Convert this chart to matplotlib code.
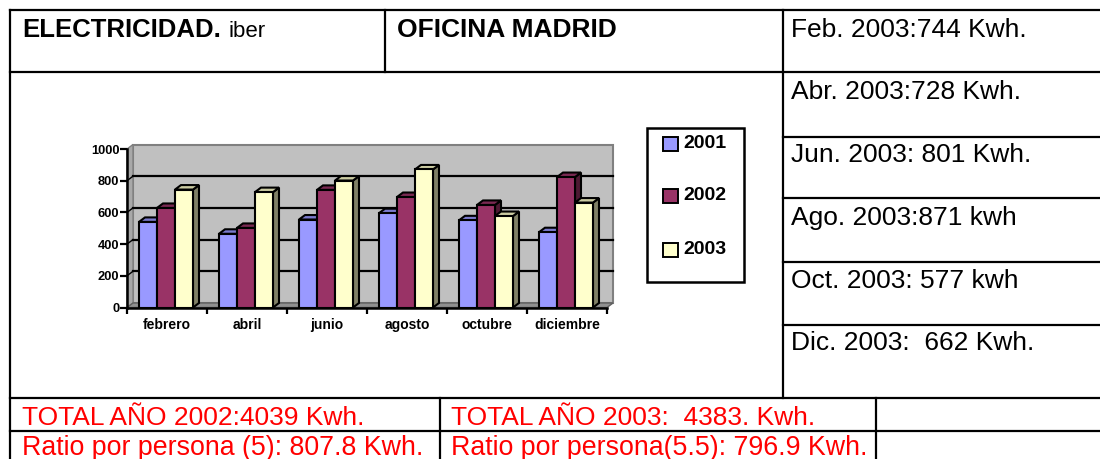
import matplotlib
matplotlib.use("Agg")
import matplotlib.pyplot as plt
from matplotlib.patches import Polygon, Rectangle
import numpy as np

# ---------------- data ----------------
categories = ["febrero", "abril", "junio", "agosto", "octubre", "diciembre"]
series_names = ["2001", "2002", "2003"]
values_2001 = [540, 465, 555, 595, 550, 475]
values_2002 = [628, 502, 742, 697, 647, 823]
values_2003 = [744, 728, 801, 871, 577, 662]
y_ticks = [0, 200, 400, 600, 800, 1000]

header_left_bold = "ELECTRICIDAD."
header_left_small = "iber"
header_mid = "OFICINA MADRID"
right_column = ["Feb. 2003:744 Kwh.", "Abr. 2003:728 Kwh.", "Jun. 2003: 801 Kwh.",
                "Ago. 2003:871 kwh", "Oct. 2003: 577 kwh", "Dic. 2003:  662 Kwh."]
footer_row1 = ["TOTAL AÑO 2002:4039 Kwh.", "TOTAL AÑO 2003:  4383. Kwh."]
footer_row2 = ["Ratio por persona (5): 807.8 Kwh.", "Ratio por persona(5.5): 796.9 Kwh."]

FONT = "Liberation Sans"
W, H = 1100, 459
fig = plt.figure(figsize=(W / 100, H / 100), dpi=100)
fig.patch.set_facecolor("white")

bg = fig.add_axes([0, 0, 1, 1])
bg.set_xlim(0, W)
bg.set_ylim(H, 0)
bg.axis("off")

def hline(y, x0, x1):
    bg.plot([x0, x1], [y, y], color="black", lw=1.6, solid_capstyle="projecting", zorder=5)

def vline(x, y0, y1):
    bg.plot([x, x], [y0, y1], color="black", lw=1.6, solid_capstyle="projecting", zorder=5)

# table grid
hline(10, 10, W)
hline(72, 10, W)
for y in [137, 198, 262, 325]:
    hline(y, 783, W)
hline(398, 10, W)
hline(431, 10, W)
vline(10, 10, H)
vline(385, 10, 72)
vline(783, 10, 398)
vline(440, 398, H)
vline(876, 398, H)

# header texts
bg.text(22, 37, header_left_bold, fontsize=18.5, fontweight="bold", family=FONT, va="baseline")
bg.text(229, 37, header_left_small, fontsize=16, family=FONT, va="baseline")
bg.text(397, 37, header_mid, fontsize=19, fontweight="bold", family=FONT, va="baseline")

right_baselines = [37, 99, 162, 225, 288, 350]
for s, yb in zip(right_column, right_baselines):
    bg.text(791, yb, s, fontsize=19, family=FONT, va="baseline", color="black")

for s, x in zip(footer_row1, [22, 451]):
    bg.text(x, 425, s, fontsize=19, family=FONT, va="baseline", color="#FF0000")
for s, x in zip(footer_row2, [22, 451]):
    bg.text(x, 455, s, fontsize=19.3, family=FONT, va="baseline", color="#FF0000")

# ---------------- chart ----------------
ax_left, ax_right = 127, 607
ax_top, ax_bot = 149, 307.5
ax = fig.add_axes([ax_left / W, (H - ax_bot) / H, (ax_right - ax_left) / W, (ax_bot - ax_top) / H])
ax.set_xlim(-0.5, 5.5)
ax.set_ylim(0, 1000)
ax.patch.set_visible(False)

px_x = (ax_right - ax_left) / 6.0
px_y = (ax_bot - ax_top) / 1000.0
ddx = 6 / px_x
ddy = 4.5 / px_y

# back wall, side wall, floor
ax.add_patch(Rectangle((-0.5 + ddx, ddy), 6, 1000, fc="#C0C0C0", ec="#808080", lw=1.5,
                       zorder=0, clip_on=False))
ax.add_patch(Polygon([(-0.5, 0), (-0.5 + ddx, ddy), (-0.5 + ddx, 1000 + ddy), (-0.5, 1000)],
                     closed=True, fc="#A8A8A8", ec="#808080", lw=1, zorder=0.5, clip_on=False))
ax.add_patch(Polygon([(-0.5, 0), (5.5, 0), (5.5 + ddx, ddy), (-0.5 + ddx, ddy)],
                     closed=True, fc="#909090", ec="#606060", lw=1, zorder=0.6, clip_on=False))
for v in y_ticks[1:-1]:
    ax.plot([-0.5 + ddx, 5.5 + ddx], [v + ddy, v + ddy], color="black", lw=1.6, zorder=1, clip_on=False)
    ax.plot([-0.5, -0.5 + ddx], [v, v + ddy], color="black", lw=1.0, zorder=1, clip_on=False)

front_colors = ["#9999FF", "#993366", "#FFFFCC"]
top_colors = ["#7A7ACC", "#7A2952", "#CCCCA3"]
side_colors = ["#4D4D80", "#4D1A33", "#808066"]
all_values = [values_2001, values_2002, values_2003]
bw = 0.225
x_idx = np.arange(len(categories))
for j, vals in enumerate(all_values):
    lefts = x_idx - 0.5 + 0.15 + j * bw
    z = 3 + j
    for xl, v in zip(lefts, vals):
        ax.add_patch(Polygon([(xl + bw, 0), (xl + bw + ddx, ddy), (xl + bw + ddx, v + ddy), (xl + bw, v)],
                             closed=True, fc=side_colors[j], ec="black", lw=1.5, zorder=z))
        ax.add_patch(Polygon([(xl, v), (xl + bw, v), (xl + bw + ddx, v + ddy), (xl + ddx, v + ddy)],
                             closed=True, fc=top_colors[j], ec="black", lw=1.5, zorder=z, clip_on=False))
    ax.bar(lefts, vals, width=bw, align="edge", color=front_colors[j], edgecolor="black",
           linewidth=1.5, zorder=z)

for sp in ["top", "right"]:
    ax.spines[sp].set_visible(False)
for sp in ["left", "bottom"]:
    ax.spines[sp].set_linewidth(1.8)
    ax.spines[sp].set_zorder(10)

ax.set_yticks(y_ticks)
ax.set_yticklabels([str(t) for t in y_ticks], fontsize=9.3, fontweight="bold", family=FONT)
ax.tick_params(axis="y", direction="out", length=5, width=1.6, pad=0.5)
ax.set_xticks(np.arange(-0.5, 6.0, 1.0))
ax.set_xticklabels([])
ax.tick_params(axis="x", which="major", direction="out", length=4, width=1.6)
ax.set_xticks(x_idx, minor=True)
ax.set_xticklabels(categories, minor=True, fontsize=10, fontweight="bold", family=FONT)
ax.tick_params(axis="x", which="minor", length=0, pad=7.5)

# legend (drawn in figure pixel space)
bg.add_patch(Rectangle((647, 128), 97, 154, fc="white", ec="black", lw=1.8, zorder=6))
for name, c, yc in zip(series_names, front_colors, [143.5, 196, 250]):
    bg.add_patch(Rectangle((663, yc - 7), 15, 14, fc=c, ec="black", lw=1.4, zorder=7))
    bg.text(683, yc, name, fontsize=14, fontweight="bold", family=FONT, va="center", zorder=7)

fig.savefig("out.png", dpi=100, facecolor="white")
